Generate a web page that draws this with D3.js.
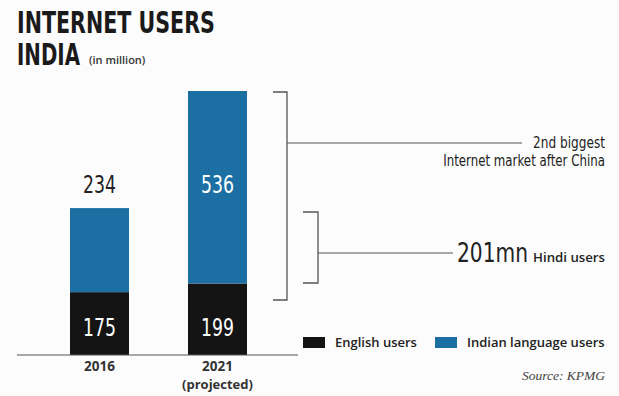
<!DOCTYPE html>
<html>
<head>
<meta charset="utf-8">
<script src="https://cdn.jsdelivr.net/npm/d3@7"></script>
<style>
  html, body { margin: 0; padding: 0; background: #fcfcfc; }
  svg { display: block; }
</style>
</head>
<body>
<svg id="chart" width="619" height="396"></svg>
<script>
// Internet users in India, millions
const years = ["2016", "2021"];
const yearNotes = ["", "(projected)"];
const englishUsers = [175, 199];
const indianLanguageUsers = [234, 536];
const seriesNames = ["English users", "Indian language users"];
const seriesColors = ["#141414", "#1b6fa2"];

const svg = d3.select("#chart");
const condensed = "'DejaVu Sans Condensed', 'Liberation Sans Narrow', sans-serif";
const sans = "'Open Sans', sans-serif";

const rows = years.map((y, i) => ({
  year: y, note: yearNotes[i],
  english: englishUsers[i], indian: indianLanguageUsers[i]
}));
const stack = d3.stack().keys(["english", "indian"])(rows);

const x = d3.scaleBand().domain(years).range([70, 247]).paddingInner(0.5).paddingOuter(0);
const y = d3.scaleLinear()
  .domain([0, d3.max(rows, d => d.english + d.indian)])
  .range([355, 91]);

// Text squeezed horizontally around its anchor, either by a fixed factor
// or so that it fills a given width.
function narrowText(px, py, str, opts) {
  const t = svg.append("text")
    .attr("text-anchor", opts.anchor || "start")
    .attr("font-family", opts.family || condensed)
    .attr("font-size", opts.size)
    .attr("font-weight", opts.weight || 400)
    .attr("fill", opts.fill || "#222")
    .text(str);
  let sx = opts.sx || 1;
  if (opts.width) sx = opts.width / t.node().getComputedTextLength();
  t.attr("transform", `translate(${px},${py}) scale(${sx},1)`);
  return t;
}

// Title
narrowText(17, 33, "INTERNET USERS", { size: 30, weight: 700, fill: "#1a1a1a", width: 198 });
narrowText(17, 65, "INDIA", { size: 30, weight: 700, fill: "#1a1a1a", width: 63 });
narrowText(89, 64, "(in million)", { family: sans, size: 11, weight: 600, fill: "#333" });

// Stacked bars
svg.append("g").selectAll("g").data(stack).join("g")
  .attr("fill", (d, i) => seriesColors[i])
  .selectAll("rect").data(d => d).join("rect")
  .attr("x", d => x(d.data.year))
  .attr("width", x.bandwidth())
  .attr("y", d => y(d[1]))
  .attr("height", d => y(d[0]) - y(d[1]));

// Baseline
svg.append("line").attr("x1", 17).attr("x2", 298)
  .attr("y1", y(0)).attr("y2", y(0))
  .attr("stroke", "#555").attr("stroke-width", 1.2);

// Value and year labels
rows.forEach(d => {
  const cx = x(d.year) + x.bandwidth() / 2;
  narrowText(cx, y(0) - 19, d.english, { size: 24, fill: "#fff", sx: 0.8, anchor: "middle" });
  const top = y(d.english + d.indian);
  const inside = y(d.english) - top > 120;
  const ly = inside ? (top + y(d.english)) / 2 + 6 : top - 15;
  narrowText(cx, ly, d.indian, { size: 24, fill: inside ? "#fff" : "#222", sx: 0.8, anchor: "middle" });

  svg.append("text").attr("x", cx).attr("y", 371)
    .attr("text-anchor", "middle").attr("font-family", sans)
    .attr("font-weight", 700).attr("font-size", 13.5).attr("fill", "#333")
    .text(d.year);
  if (d.note) {
    svg.append("text").attr("x", cx).attr("y", 389)
      .attr("text-anchor", "middle").attr("font-family", sans)
      .attr("font-weight", 700).attr("font-size", 13).attr("fill", "#333")
      .text(d.note);
  }
});

// Bracket callouts
const bracketColor = "#555";
function bracket(xin, xv, y0, y1, midY, lineTo) {
  svg.append("path")
    .attr("d", `M${xin},${y0}H${xv}V${y1}H${xin}`)
    .attr("fill", "none").attr("stroke", bracketColor).attr("stroke-width", 1.3);
  svg.append("line").attr("x1", xv).attr("x2", lineTo).attr("y1", midY).attr("y2", midY)
    .attr("stroke", bracketColor).attr("stroke-width", 1.1);
}

// Total market bracket alongside the 2021 bar
bracket(273, 287, y(englishUsers[1] + indianLanguageUsers[1]) + 1, 300, 143, 522);
narrowText(605, 148, "2nd biggest", { size: 15, width: 72, anchor: "end" });
narrowText(605, 166, "Internet market after China", { size: 15, width: 162, anchor: "end" });

// Hindi users bracket
bracket(303, 318, 212, 283, 253, 453);
narrowText(605, 262, "Hindi users", { family: sans, size: 13, weight: 600, width: 72, anchor: "end" });
narrowText(528, 262, "201mn", { size: 27, width: 71, anchor: "end" });

// Legend
seriesNames.forEach((name, i) => {
  const lx = [303, 435][i];
  svg.append("rect").attr("x", lx).attr("y", 337).attr("width", 22).attr("height", 11)
    .attr("fill", seriesColors[i]);
  svg.append("text").attr("x", lx + 32).attr("y", 347)
    .attr("font-family", sans).attr("font-weight", 600)
    .attr("font-size", 13).attr("fill", "#222").text(name);
});

// Source
svg.append("text").attr("x", 605).attr("y", 380).attr("text-anchor", "end")
  .attr("font-family", "'Liberation Serif', serif").attr("font-style", "italic")
  .attr("font-size", 13.5).attr("fill", "#444").text("Source: KPMG");
</script>
</body>
</html>
